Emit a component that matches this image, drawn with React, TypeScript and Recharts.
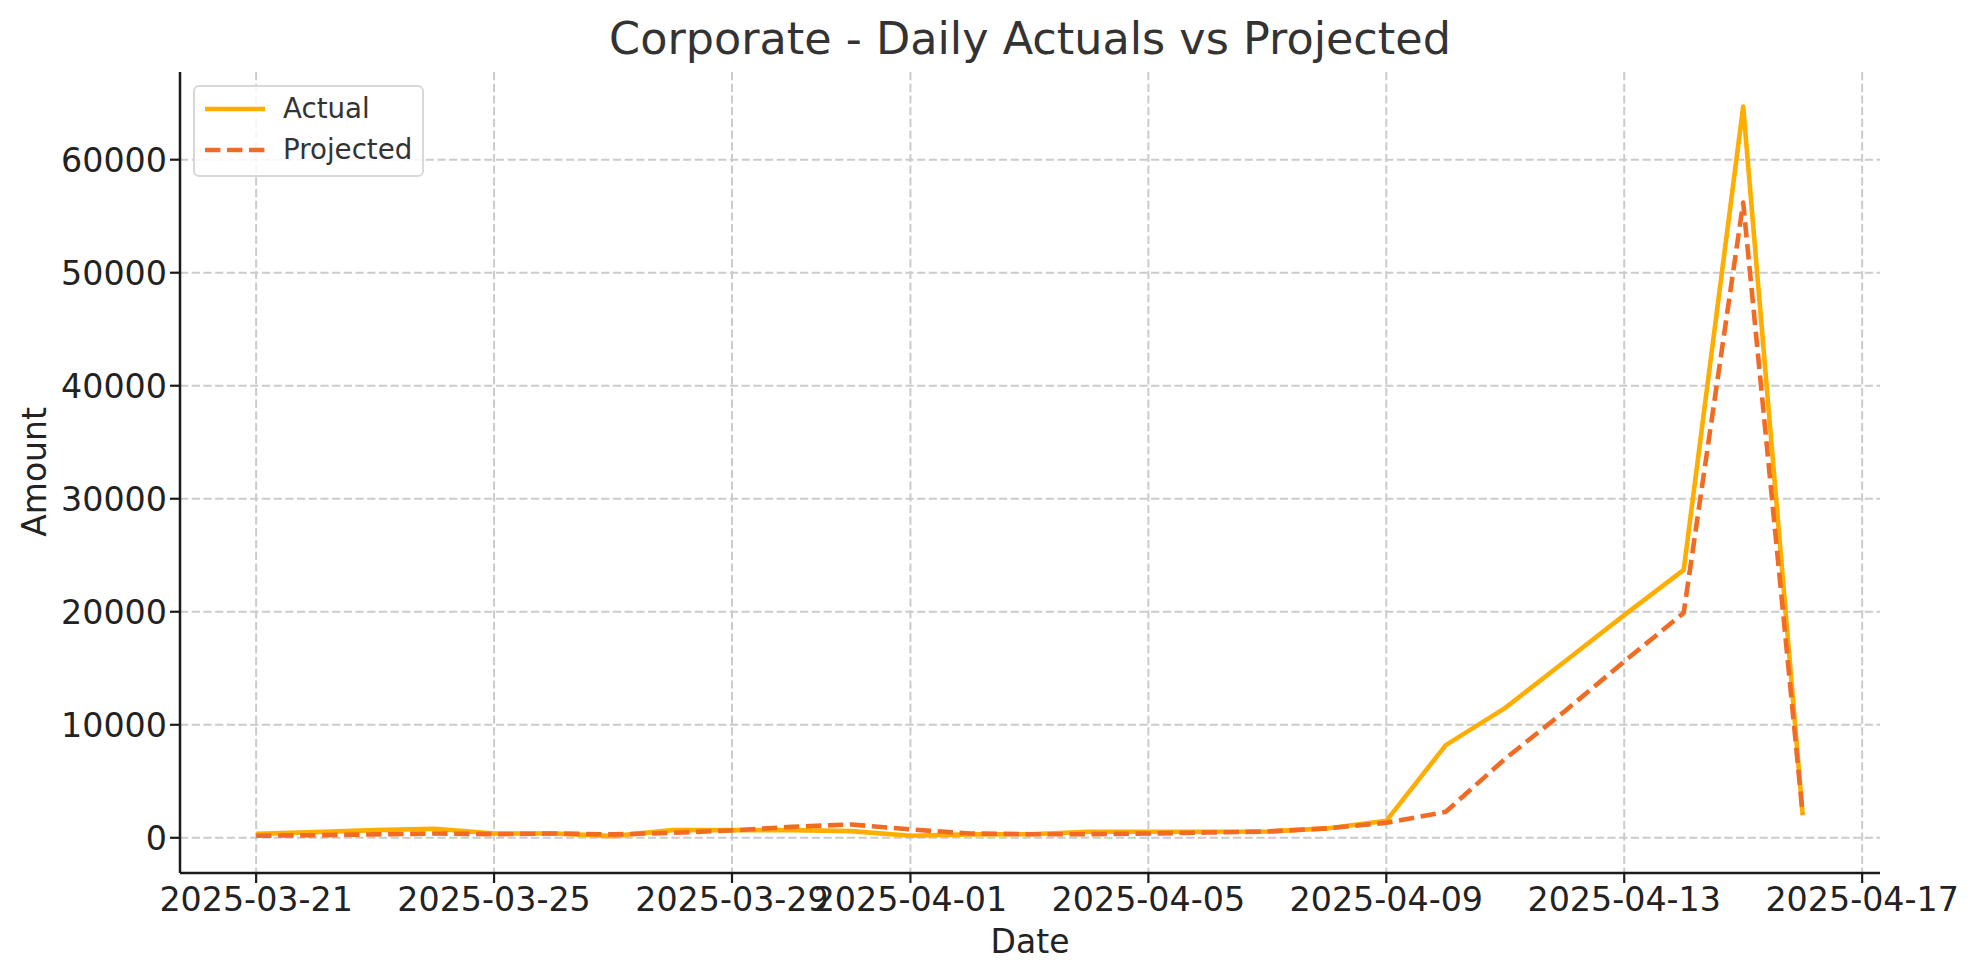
import React from 'react';
import { LineChart, Line, XAxis, YAxis, CartesianGrid } from 'recharts';

document.body.style.margin = '0';

const dates = [
  '2025-03-21', '2025-03-22', '2025-03-23', '2025-03-24', '2025-03-25', '2025-03-26', '2025-03-27',
  '2025-03-28', '2025-03-29', '2025-03-30', '2025-03-31', '2025-04-01', '2025-04-02', '2025-04-03',
  '2025-04-04', '2025-04-05', '2025-04-06', '2025-04-07', '2025-04-08', '2025-04-09', '2025-04-10',
  '2025-04-11', '2025-04-12', '2025-04-13', '2025-04-14', '2025-04-15', '2025-04-16',
];
const actual = [
  350, 500, 680, 800, 380, 380, 150, 680, 680, 680, 590, 180, 300, 320,
  530, 530, 530, 560, 830, 1500, 8200, 11500, 15600, 19700, 23700, 64700, 2000,
];
const projected = [
  180, 230, 300, 380, 320, 380, 300, 440, 650, 970, 1180, 740, 380, 320,
  320, 380, 470, 560, 830, 1330, 2300, 7000, 11200, 15600, 19900, 56200, 2100,
];
const xTickLabels = [
  '2025-03-21', '2025-03-25', '2025-03-29', '2025-04-01',
  '2025-04-05', '2025-04-09', '2025-04-13', '2025-04-17',
];
const yTicks = [0, 10000, 20000, 30000, 40000, 50000, 60000];

const DAY = 86400000;
const dayIndex = (s: string) => Math.round((Date.parse(s) - Date.parse(dates[0])) / DAY);

const data = dates.map((d, i) => ({ d: dayIndex(d), actual: actual[i], projected: projected[i] }));
const xTicks = xTickLabels.map(dayIndex);
const labelFor = (v: number) => xTickLabels[xTicks.indexOf(v)] ?? '';

const X_DOMAIN: [number, number] = [-1.28, 27.3];
const Y_DOMAIN: [number, number] = [-3115, 67760];

const FONT = '"DejaVu Sans", sans-serif';
const ACTUAL = '#FFAE00';
const PROJ = '#F26B23';

const LegendBox = () => (
  <div style={{
    position: 'absolute', left: 193, top: 85,
    width: 227, height: 88, border: '2px solid #d8d8d8', borderRadius: 6,
    background: 'rgba(255,255,255,0.85)', fontFamily: FONT, fontSize: 27.7, color: '#333',
  }}>
    <svg width={70} height={80} style={{ position: 'absolute', left: 8, top: 0 }}>
      <line x1={2} x2={62} y1={22} y2={22} stroke={ACTUAL} strokeWidth={4.6} />
      <line x1={2} x2={62} y1={63} y2={63} stroke={PROJ} strokeWidth={4.6} strokeDasharray="15.4 6.6" />
    </svg>
    <div style={{ position: 'absolute', left: 88, top: 4, lineHeight: '36px' }}>Actual</div>
    <div style={{ position: 'absolute', left: 88, top: 45, lineHeight: '36px' }}>Projected</div>
  </div>
);

// grid only at the tick values, not at the plot edges
const hGrid = ({ offset }: any) =>
  yTicks.map(t => offset.top + offset.height * (Y_DOMAIN[1] - t) / (Y_DOMAIN[1] - Y_DOMAIN[0]));
const vGrid = ({ offset }: any) =>
  xTicks.map(t => offset.left + offset.width * (t - X_DOMAIN[0]) / (X_DOMAIN[1] - X_DOMAIN[0]));

export default function App() {
  return (
    <div style={{ position: 'relative', width: 1978, height: 980, background: '#fff', fontFamily: FONT }}>
      <div style={{ position: 'absolute', top: 12, left: 0, width: 2060, textAlign: 'center', fontSize: 44.5, color: '#333', lineHeight: '54px' }}>
        Corporate - Daily Actuals vs Projected
      </div>
      <LineChart
        width={1978}
        height={980}
        data={data}
        margin={{ top: 72, right: 98, bottom: 47, left: 80 }}
      >
        <CartesianGrid
          stroke="#cbcbcb"
          strokeWidth={2}
          strokeDasharray="8.2 3.5"
          horizontalCoordinatesGenerator={hGrid}
          verticalCoordinatesGenerator={vGrid}
        />
        <XAxis
          type="number"
          dataKey="d"
          domain={X_DOMAIN}
          ticks={xTicks}
          tickFormatter={labelFor}
          interval={0}
          height={60}
          tickSize={10}
          tickMargin={4}
          axisLine={{ stroke: '#1a1a1a', strokeWidth: 2.5 }}
          tickLine={{ stroke: '#1a1a1a', strokeWidth: 2.2 }}
          tick={{ fontSize: 33.3, fill: '#222', fontFamily: FONT }}
        />
        <YAxis
          type="number"
          domain={Y_DOMAIN}
          ticks={yTicks}
          width={100}
          tickSize={10}
          tickMargin={3}
          axisLine={{ stroke: '#1a1a1a', strokeWidth: 2.5 }}
          tickLine={{ stroke: '#1a1a1a', strokeWidth: 2.2 }}
          tick={{ fontSize: 33.3, fill: '#222', fontFamily: FONT }}
        />
        <Line
          type="linear"
          dataKey="actual"
          name="Actual"
          stroke={ACTUAL}
          strokeWidth={4.6}
          dot={false}
          strokeLinejoin="round"
          isAnimationActive={false}
        />
        <Line
          type="linear"
          dataKey="projected"
          name="Projected"
          stroke={PROJ}
          strokeWidth={4.6}
          strokeDasharray="15.4 6.6"
          dot={false}
          strokeLinejoin="round"
          isAnimationActive={false}
        />
      </LineChart>
      <LegendBox />
      <div style={{ position: 'absolute', top: 922, left: 0, width: 2060, textAlign: 'center', fontSize: 33, color: '#222', lineHeight: '40px' }}>
        Date
      </div>
      <div style={{
        position: 'absolute', left: 35, top: 472, fontSize: 33, color: '#222', lineHeight: '40px',
        transform: 'translate(-50%, -50%) rotate(-90deg)', whiteSpace: 'nowrap',
      }}>
        Amount
      </div>
    </div>
  );
}
